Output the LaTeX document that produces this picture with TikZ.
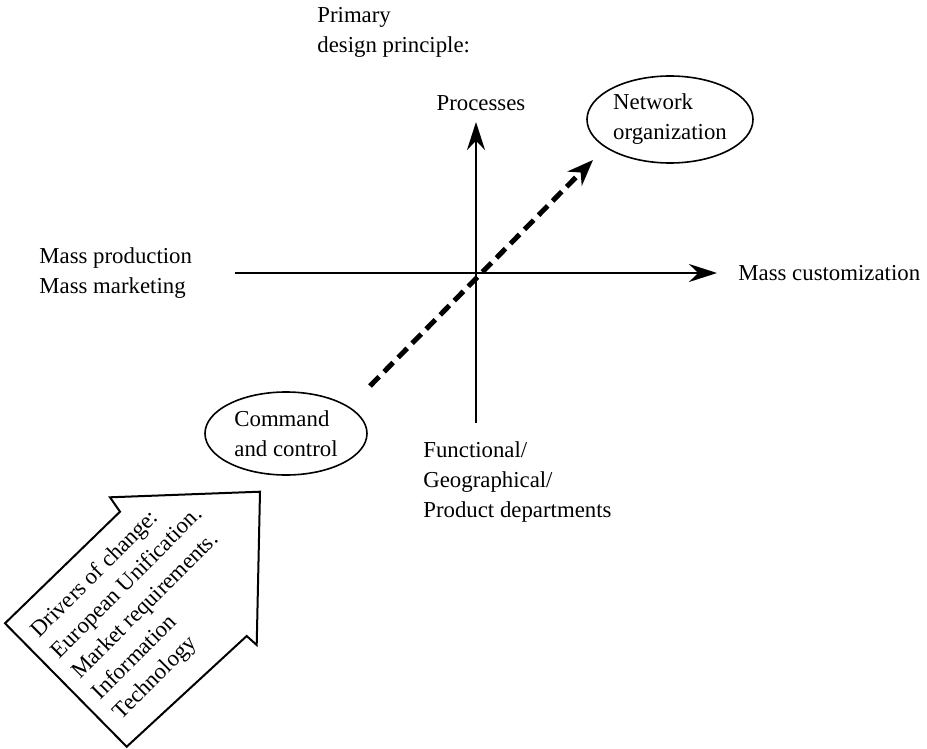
\documentclass[tikz,border=0pt]{standalone}
\usepackage{fontspec}
\setmainfont{Liberation Serif}
\usetikzlibrary{arrows.meta,shapes.geometric}

\begin{document}
\begin{tikzpicture}[x=0.5pt, y=-0.5pt,
    font=\fontsize{11.4}{15}\selectfont,
    txt/.style={inner sep=0pt, align=left},
    stage/.style={draw, ellipse, line width=0.8pt, inner sep=0pt, align=left},
    axisline/.style={line width=1pt, -{Stealth[length=14pt, width=9pt]}},
    trend/.style={line width=2.5pt, dash pattern=on 6.5pt off 3.5pt, -{Stealth[length=13pt, width=10pt]}}]
    \useasboundingbox (0,0) rectangle (927,749);

    % the two axes
    \coordinate (O) at (476,273);
    \coordinate (axL) at (235,273);
    \coordinate (axR) at (717,273);
    \coordinate (axB) at (476,423);
    \coordinate (axT) at (476,122);
    \draw[axisline] (axL) -- (axR);
    \draw[axisline] (axB) -- (axT);

    % axis labels
    \node[txt, anchor=west] (princ) at (317,32) {Primary\\design principle:};
    \node[txt] (proc) at (481,103) {Processes};
    \node[txt, anchor=west] (massprod) at (39,273) {Mass production\\Mass marketing};
    \node[txt, anchor=west] (masscust) at (738,273) {Mass customization};
    \node[txt, anchor=west] (funct) at (423,482) {Functional/\\Geographical/\\Product departments};

    % forms of organization
    \node[stage, minimum width=81pt, minimum height=41.5pt] (cmd) at (286,433.5) {Command\\and control};
    \node[stage, minimum width=83pt, minimum height=43.5pt] (net) at (670,119.5) {Network\\organization};

    % shift from command and control to network
    \coordinate (dashS) at (370,386);
    \coordinate (dashE) at (593,160);
    \draw[trend] (dashS) -- (dashE);

    % drivers of change (block arrow)
    \draw[line width=1pt, line join=miter] (260,491.7) -- (256.7,645) -- (246.7,636)
        -- (126.7,746.7) -- (5,623.3) -- (120,511.7) -- (110,497.3) -- cycle;
    \node[txt, rotate=45, font=\fontsize{11.4}{14.5}\selectfont] (drivers) at (148,604)
        {Drivers of change:\\European Unification.\\Market requirements.\\Information\\Technology};

\end{tikzpicture}
\end{document}
